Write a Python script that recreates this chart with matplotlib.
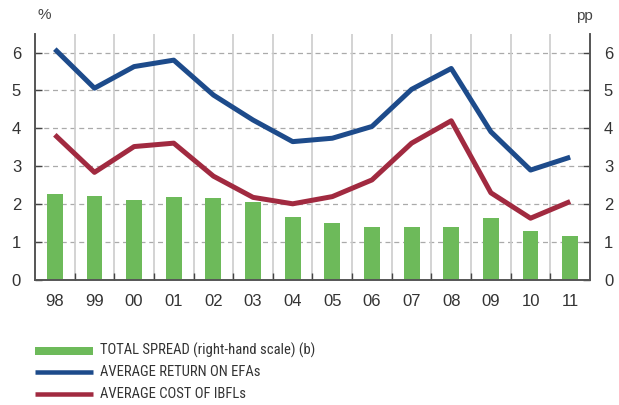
import matplotlib
matplotlib.use("Agg")
import matplotlib.pyplot as plt
from matplotlib.lines import Line2D
from matplotlib import font_manager

years = ["98", "99", "00", "01", "02", "03", "04", "05", "06", "07", "08", "09", "10", "11"]
return_efas = [6.09, 5.06, 5.63, 5.80, 4.88, 4.22, 3.65, 3.74, 4.05, 5.03, 5.58, 3.91, 2.90, 3.24]
cost_ibfls = [3.83, 2.84, 3.52, 3.61, 2.74, 2.18, 2.01, 2.20, 2.64, 3.61, 4.20, 2.30, 1.63, 2.07]
total_spread = [2.27, 2.21, 2.11, 2.18, 2.16, 2.05, 1.65, 1.51, 1.40, 1.41, 1.39, 1.63, 1.29, 1.16]
y_ticks = [0, 1, 2, 3, 4, 5, 6]
legend_labels = ["TOTAL SPREAD (right-hand scale) (b)", "AVERAGE RETURN ON EFAs", "AVERAGE COST OF IBFLs"]

BLUE = "#1d4b8b"
RED = "#a12a40"
GREEN = "#6dba5a"

names = {f.name for f in font_manager.fontManager.ttflist}
base_font = "Liberation Sans" if "Liberation Sans" in names else "DejaVu Sans"
legend_font, legend_size = base_font, 9.6
for cand in ("Liberation Sans Narrow", "Arial Narrow", "Roboto Condensed", "Open Sans Condensed"):
    if cand in names:
        legend_font, legend_size = cand, 10.5
        break
plt.rcParams["font.family"] = [base_font, "DejaVu Sans"]

fig = plt.figure(figsize=(6.19, 4.05), dpi=100)
ax = fig.add_axes([35 / 619, 1 - 280 / 405, (590 - 35) / 619, (280 - 33.6) / 405])
ax2 = ax.twinx()

x = list(range(len(years)))
ax2.bar(x, total_spread, width=0.4, color=GREEN, zorder=2)
ax.plot(x, return_efas, color=BLUE, lw=3.6, zorder=4, solid_capstyle="butt")
ax.plot(x, cost_ibfls, color=RED, lw=3.6, zorder=4, solid_capstyle="butt")

# put lines above bars
ax.set_zorder(ax2.get_zorder() + 1)
ax.patch.set_visible(False)

for a in (ax, ax2):
    a.set_ylim(0, 6.5)
    a.set_xlim(-0.5, len(years) - 0.5)
    a.set_yticks(y_ticks)
    a.set_yticklabels([str(t) for t in y_ticks], fontsize=12, color="#333333")

ax.set_xticks(x)
ax.set_xticklabels(years, fontsize=12, color="#333333")
ax.tick_params(axis="x", which="major", length=0, pad=10)
ax.set_xticks([i + 0.5 for i in x[:-1]], minor=True)
ax.tick_params(axis="x", which="minor", direction="in", length=5, color="#444444", width=1)
ax.tick_params(axis="y", which="major", direction="in", length=5, color="#444444", width=1, pad=10)
ax2.tick_params(axis="y", which="major", direction="in", length=5, color="#444444", width=1, pad=10)

# grids on the back axes
ax2.grid(False)
for t in y_ticks[1:]:
    ax2.axhline(t, color="#aaaaaa", lw=0.9, ls=(0, (4, 3)), zorder=0)
for i in x[:-1]:
    ax2.axvline(i + 0.5, color="#cccccc", lw=1.2, zorder=0)

for a in (ax, ax2):
    a.spines["top"].set_visible(False)
    for s in ("left", "right", "bottom"):
        a.spines[s].set_color("#555555")
        a.spines[s].set_linewidth(1.2)

fig.text(38 / 619, 1 - 15 / 405, "%", fontsize=11, color="#444444", ha="left", va="center")
fig.text(593 / 619, 1 - 16 / 405, "pp", fontsize=11, color="#444444", ha="right", va="center")

# legend
leg_colors = [GREEN, BLUE, RED]
leg_widths = [8, 4.5, 4.5]
leg_y = [350.7, 372.3, 394.3]
for lab, c, w, yy in zip(legend_labels, leg_colors, leg_widths, leg_y):
    fy = 1 - yy / 405
    fig.add_artist(Line2D([35 / 619, 93 / 619], [fy, fy], color=c, lw=w * 0.72, solid_capstyle="butt"))
    fig.text(100 / 619, fy, lab, fontsize=legend_size, color="#333333", ha="left", va="center",
             family=[legend_font, "DejaVu Sans"])

fig.savefig("out.png", dpi=100)
